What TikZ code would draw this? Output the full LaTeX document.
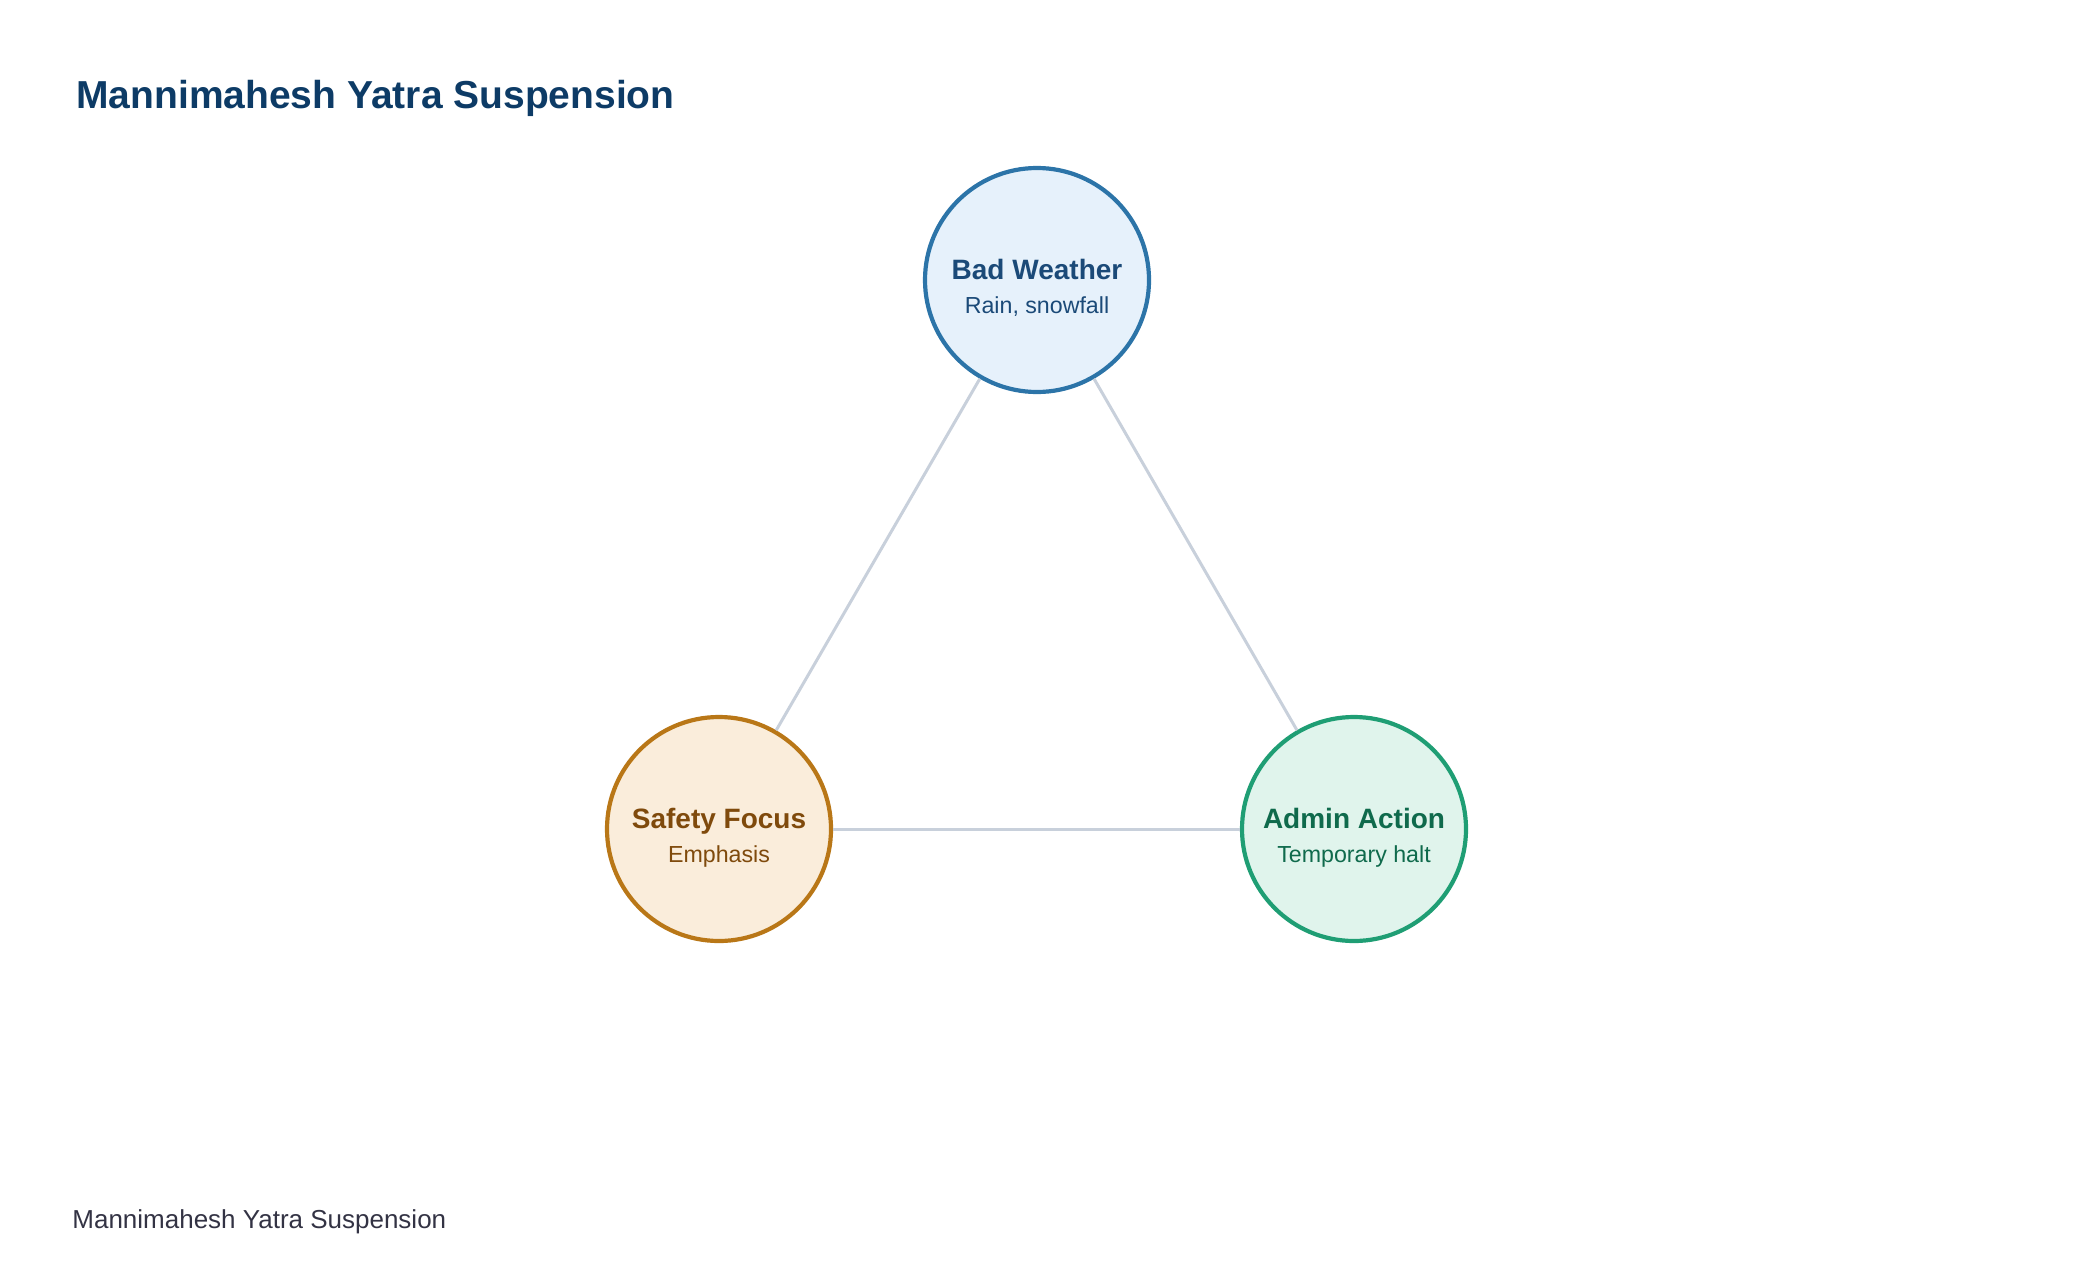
\documentclass[tikz,border=0pt]{standalone}
\usepackage{fontspec}
\setmainfont{Liberation Sans}
\usetikzlibrary{calc}
\definecolor{titleblue}{HTML}{0D3B66}
\definecolor{footgray}{HTML}{333344}
\definecolor{linkgray}{HTML}{C8D0DB}
\definecolor{wxline}{HTML}{2C74A8}
\definecolor{wxfill}{HTML}{E6F1FB}
\definecolor{wxtext}{HTML}{1B4A78}
\definecolor{sfline}{HTML}{B97717}
\definecolor{sffill}{HTML}{FAEDDB}
\definecolor{sftext}{HTML}{7F4A0C}
\definecolor{adline}{HTML}{1F9E74}
\definecolor{adfill}{HTML}{E0F4EC}
\definecolor{adtext}{HTML}{0F6A4C}
\tikzset{
  bubble/.style={circle, minimum size=112pt, inner sep=0pt, outer sep=1pt, line width=2.1pt},
  head/.style={anchor=base, font=\fontsize{14}{16}\selectfont\bfseries},
  sub/.style={anchor=base, font=\fontsize{11.6}{14}\selectfont},
  link/.style={draw=linkgray, line width=1.5pt}
}
\begin{document}
\begin{tikzpicture}[x=0.5pt, y=-0.5pt]
			%%%%% FRAME %%%%%
			\useasboundingbox (0, 0) rectangle (2080, 1284);
			
			\node[anchor=base west, inner sep=0pt, text=titleblue, font=\fontsize{19.5}{22}\selectfont\bfseries] (title) at (76, 109) {Mannimahesh Yatra Suspension};
			
			%%%%% CIRCLES %%%%%
			\node[bubble, draw=wxline, fill=wxfill] (weather) at (1037, 280) {};
			\node[head, text=wxtext] (weatherhead) at ($(weather)+(0, -1)$) {Bad Weather};
			\node[sub, text=wxtext] (weathersub) at ($(weather)+(0, 33)$) {Rain, snowfall};
			
			\node[bubble, draw=sfline, fill=sffill] (safety) at (719, 829) {};
			\node[head, text=sftext] (safetyhead) at ($(safety)+(0, -1)$) {Safety Focus};
			\node[sub, text=sftext] (safetysub) at ($(safety)+(0, 33)$) {Emphasis};
			
			\node[bubble, draw=adline, fill=adfill] (admin) at (1354, 829) {};
			\node[head, text=adtext] (adminhead) at ($(admin)+(0, -1)$) {Admin Action};
			\node[sub, text=adtext] (adminsub) at ($(admin)+(0, 33)$) {Temporary halt};
			
			%%%%% LINKS %%%%%
			\draw[link] (weather) -- (safety);
			\draw[link] (weather) -- (admin);
			\draw[link] (safety) -- (admin);
			
			\node[anchor=base west, inner sep=0pt, text=footgray, font=\fontsize{13}{16}\selectfont] (footer) at (72, 1228) {Mannimahesh Yatra Suspension};
			
			%%%%% END %%%%%
\end{tikzpicture}
\end{document}
